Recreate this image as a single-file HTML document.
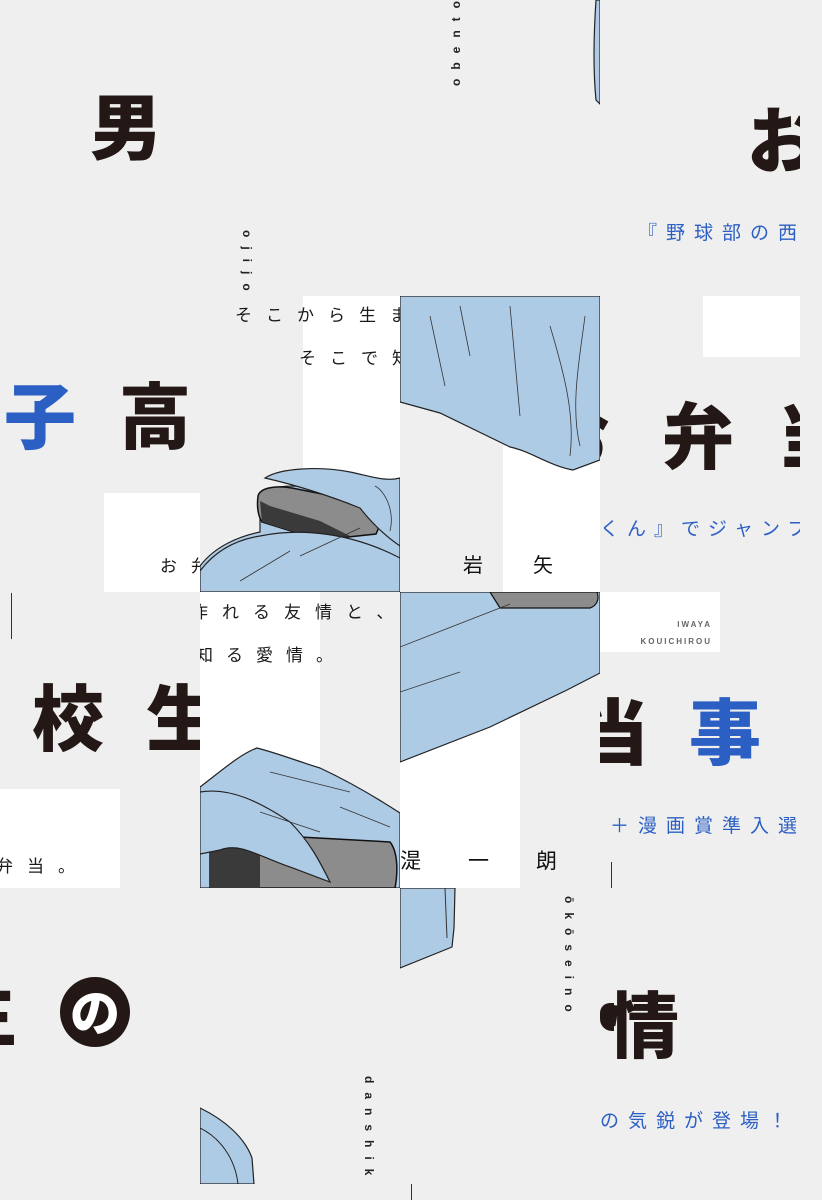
<!DOCTYPE html>
<html><head><meta charset="utf-8"><style>
*{margin:0;padding:0;box-sizing:border-box}
body{width:822px;height:1200px;background:#efefef;position:relative;overflow:hidden;font-family:"Liberation Sans","Noto Sans CJK JP",sans-serif}
.c{position:absolute;overflow:hidden}
.a{position:absolute;white-space:nowrap}
.big{font-family:"Noto Sans CJK JP",sans-serif;font-weight:900;font-size:72px;line-height:1;color:#231815}
.blue{color:#2c5fc4}
.w{position:absolute;background:#fff}
.s{font-family:"Noto Sans CJK JP",sans-serif;font-size:17px;line-height:1;color:#1a1a1a}
.bt{font-family:"Noto Sans CJK JP",sans-serif;font-size:19px;line-height:1;color:#2c5fc4}
.v{font-size:12px;font-weight:bold;line-height:1;color:#222;letter-spacing:9px}
.ln{position:absolute;width:1px;background:#333}
svg{position:absolute;left:0;top:0}
</style></head><body>

<!-- row 0 -->
<div class="c" style="left:0;top:0;width:200px;height:296px">
  <div class="a big" style="left:90px;top:87px">男</div>
</div>
<div class="c" style="left:200px;top:0;width:200px;height:296px">
  <div class="a v" style="transform:rotate(90deg);transform-origin:left top;left:53px;top:230px">ojijo</div>
</div>
<div class="c" style="left:400px;top:0;width:200px;height:296px">
  <div class="a v" style="left:50px;top:86px;transform:rotate(-90deg);transform-origin:left top">obento</div>
  <svg width="200" height="296"><path d="M200,0 L196,0 C194,30 193,70 196,100 L200,104 Z" fill="#aecbe6" stroke="#222" stroke-width="1.2"/></svg>
</div>
<div class="c" style="left:600px;top:0;width:200px;height:296px">
  <div class="a big" style="left:147px;top:100px">お</div>
  <div class="a bt" style="left:38px;top:222px;letter-spacing:9px">『野球部の西くん』</div>
</div>

<!-- row 1 -->
<div class="c" style="left:0;top:296px;width:200px;height:296px">
  <div class="a big blue" style="left:4px;top:80px">子</div>
  <div class="a big" style="left:119px;top:80px">高</div>
  <div class="w" style="left:104px;top:197px;width:96px;height:99px"></div>
  <div class="a s" style="left:160px;top:260px;letter-spacing:14px">お弁当</div>
</div>
<div class="c" style="left:200px;top:296px;width:200px;height:296px">
  <div class="w" style="left:103px;top:0;width:97px;height:296px"></div>
  <div class="a s" style="left:35px;top:9px;letter-spacing:14px">そこから生まれる</div>
  <div class="a s" style="left:99px;top:52px;letter-spacing:14px">そこで知る</div>
  <svg width="200" height="296">
    <path d="M0,296 L0,270 C15,250 40,240 60,236 L60,200 C70,190 90,188 110,192 L170,205 L200,200 L200,296 Z" fill="#aecbe6" stroke="#222" stroke-width="1.2"/>
    <path d="M58,200 C60,192 75,189 92,192 L172,208 C180,214 182,226 176,238 L120,244 L62,226 C57,218 57,208 58,200 Z" fill="#8c8c8c" stroke="#111" stroke-width="1.5"/>
    <path d="M60,205 L62,226 L120,244 L150,240 L120,225 L70,210 Z" fill="#3a3a3a"/>
    <path d="M65,182 C80,172 120,170 150,176 C170,180 185,186 200,182 L200,250 C185,240 170,225 160,212 C130,200 100,190 65,182 Z" fill="#aecbe6" stroke="#222" stroke-width="1.2"/>
    <path d="M60,240 C100,232 150,236 200,262 L200,296 L0,296 L0,275 C15,255 35,244 60,240 Z" fill="#aecbe6" stroke="#222" stroke-width="1.2"/>
    <path d="M175,190 C185,195 195,215 190,235 M100,260 L160,232 M40,285 L90,255" stroke="#333" fill="none" stroke-width="0.8"/>
  </svg>
</div>
<div class="c" style="left:400px;top:296px;width:200px;height:296px">
  <div class="w" style="left:103px;top:150px;width:97px;height:146px"></div>
  <svg width="200" height="296">
    <path d="M0,0 L200,0 L200,164 L173,174 C150,170 130,155 110,151 L40,117 L0,106 Z" fill="#aecbe6" stroke="#222" stroke-width="1.2"/>
    <path d="M30,20 L45,90 M110,10 L120,120 M150,30 C165,80 175,120 170,160 M185,20 C180,60 170,110 180,150 M60,10 L70,60" stroke="#333" fill="none" stroke-width="0.8"/>
  </svg>
  <div class="a" style="left:63px;top:258px;font-family:'Noto Sans CJK JP',sans-serif;font-size:20px;line-height:1;color:#111;letter-spacing:50px">岩矢</div>
</div>
<div class="c" style="left:600px;top:296px;width:200px;height:296px">
  <div class="w" style="left:103px;top:0;width:97px;height:61px"></div>
  <div class="a big" style="left:-62px;top:100px">お</div>
  <div class="a big" style="left:62px;top:100px">弁</div>
  <div class="a big" style="left:177px;top:100px">当</div>
  <div class="a bt" style="left:0px;top:222px;letter-spacing:8px">くん』でジャンプ</div>
</div>

<!-- row 2 -->
<div class="c" style="left:0;top:592px;width:200px;height:296px">
  <div class="ln" style="left:11px;top:1px;height:46px"></div>
  <div class="a big" style="left:32px;top:86px">校</div>
  <div class="a big" style="left:146px;top:86px">生</div>
  <div class="w" style="left:0;top:197px;width:120px;height:99px"></div>
  <div class="a s" style="left:-4px;top:264px;letter-spacing:14px">弁当。</div>
</div>
<div class="c" style="left:200px;top:592px;width:200px;height:296px">
  <div class="w" style="left:0;top:0;width:120px;height:296px"></div>
  <div class="a s" style="left:-9px;top:10px;letter-spacing:14px">作れる友情と、</div>
  <div class="a s" style="left:-4px;top:53px;letter-spacing:13px">知る愛情。</div>
  <svg width="200" height="296">
    <path d="M0,195 C20,180 40,162 57,156 C80,162 100,170 120,176 C150,190 180,208 200,221 L200,296 L0,296 Z" fill="#aecbe6" stroke="#222" stroke-width="1.2"/>
    <path d="M10,240 L190,250 C198,260 198,280 195,296 L10,296 Z" fill="#8c8c8c" stroke="#111" stroke-width="1.5"/>
    <path d="M10,240 L60,245 L60,296 L10,296 Z" fill="#3a3a3a"/>
    <path d="M0,200 C30,195 60,210 90,230 C110,250 120,270 130,290 L90,275 C60,265 40,250 20,258 L0,262 Z" fill="#aecbe6" stroke="#222" stroke-width="1.2"/>
    <path d="M70,180 L150,200 M60,220 L120,240 M140,215 L190,235" stroke="#333" fill="none" stroke-width="0.8"/>
  </svg>
</div>
<div class="c" style="left:400px;top:592px;width:200px;height:296px">
  <div class="w" style="left:0;top:0;width:120px;height:296px"></div>
  <svg width="200" height="296">
    <path d="M0,0 L200,0 L200,81 L167,98 L90,135 L0,170 Z" fill="#aecbe6" stroke="#222" stroke-width="1.2"/>
    <path d="M90,0 L197,0 C200,8 196,14 190,16 L100,16 Z" fill="#8c8c8c" stroke="#111" stroke-width="1.2"/>
    <path d="M0,55 L110,12 M0,100 L60,80" stroke="#333" fill="none" stroke-width="0.8"/>
  </svg>
  <div class="a" style="left:0px;top:258px;font-family:'Noto Sans CJK JP',sans-serif;font-size:21px;line-height:1;color:#111;letter-spacing:47px">湜一朗</div>
</div>
<div class="c" style="left:600px;top:592px;width:200px;height:296px">
  <div class="w" style="left:0;top:0;width:120px;height:60px"></div>
  <div class="a" style="right:88px;top:24px;font-size:8px;font-weight:bold;color:#666;letter-spacing:2px;text-align:right;line-height:17px">IWAYA<br>KOUICHIROU</div>
  <div class="a big" style="left:-23px;top:100px">当</div>
  <div class="a big blue" style="left:89px;top:100px">事</div>
  <div class="a bt" style="left:10px;top:223px;letter-spacing:9px">＋漫画賞準入選</div>
  <div class="ln" style="left:11px;top:270px;height:26px"></div>
</div>

<!-- row 3 -->
<div class="c" style="left:0;top:888px;width:200px;height:296px">
  <div class="a big" style="left:-55px;top:85px">生</div>
  <div class="a" style="left:60px;top:89px;width:70px;height:70px;border-radius:50%;background:#231815;color:#fff;font-family:'Noto Sans CJK JP',sans-serif;font-weight:900;font-size:50px;line-height:66px;text-align:center">の</div>
</div>
<div class="c" style="left:200px;top:888px;width:200px;height:296px">
  <svg width="200" height="296"><path d="M0,220 C25,232 45,250 52,270 L54,296 L0,296 Z" fill="#aecbe6" stroke="#222" stroke-width="1.2"/><path d="M0,240 C20,250 35,270 38,296" stroke="#222" fill="none"/></svg>
  <div class="a v" style="left:175px;top:188px;transform:rotate(90deg);transform-origin:left top">danshik</div>
</div>
<div class="c" style="left:400px;top:888px;width:200px;height:296px">
  <svg width="200" height="296"><path d="M0,0 L55,0 L54,40 L52,59 L0,80 Z" fill="#aecbe6" stroke="#222" stroke-width="1.2"/><path d="M45,0 L47,50" stroke="#333"/></svg>
  <div class="a v" style="left:175px;top:8px;transform:rotate(90deg);transform-origin:left top">ōkōseino</div>
</div>
<div class="c" style="left:600px;top:888px;width:200px;height:296px">
  <div class="a" style="left:0;top:115px;width:14px;height:28px;background:#231815;border-radius:10px 0 0 12px"></div>
  <div class="a big" style="left:7px;top:97px">情</div>
  <div class="a bt" style="left:0px;top:222px;letter-spacing:9px">の気鋭が登場！</div>
</div>
<div class="ln" style="left:411px;top:1184px;height:16px"></div>
</body></html>
